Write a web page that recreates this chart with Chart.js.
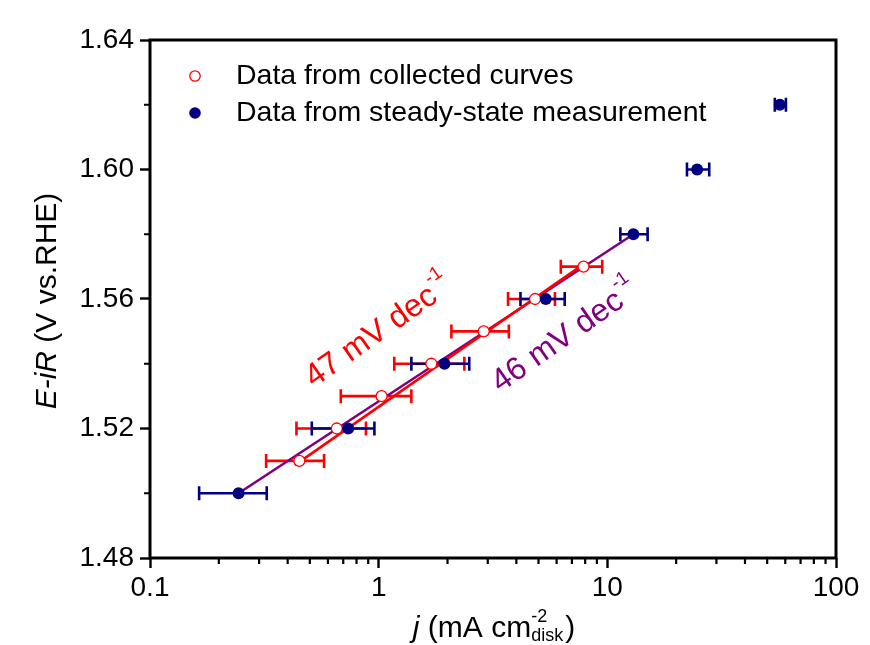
<!DOCTYPE html>
<html>
<head>
<meta charset="utf-8">
<script src="https://cdn.jsdelivr.net/npm/chart.js@4.4.1/dist/chart.umd.min.js"></script>
<style>
  body { margin: 0; background: #fff; }
  canvas { display: block; }
</style>
</head>
<body>
<canvas id="tafelChart" width="870" height="645"></canvas>
<script>
// steady-state points (navy, filled)
const ssJ = [0.244, 0.736, 1.94, 5.38, 13.0, 24.7, 56.8];
const ssE = [1.50, 1.52, 1.54, 1.56, 1.58, 1.60, 1.62];
const ssJLow = [0.164, 0.51, 1.39, 4.17, 11.4, 22.3, 54.0];
const ssJHigh = [0.324, 0.958, 2.49, 6.51, 15.0, 27.9, 60.4];

// collected-curve points (red, open)
const ccJ = [0.45, 0.656, 1.03, 1.70, 2.88, 4.83, 7.87];
const ccE = [1.51, 1.52, 1.53, 1.54, 1.55, 1.56, 1.57];
const ccJLow = [0.322, 0.437, 0.683, 1.17, 2.08, 3.68, 6.26];
const ccJHigh = [0.577, 0.88, 1.39, 2.37, 3.71, 5.9, 9.5];

// Tafel fits
const redFitJ = [0.43, 7.6];
const redFitE = [1.5087, 1.570];
const purpleFitJ = [0.244, 13.0];
const purpleFitE = [1.50, 1.58];

// axes
const xTicks = [0.1, 1, 10, 100];
const xTickLabels = ['0.1', '1', '10', '100'];
const xMinorTicks = [0.2, 0.3, 0.4, 0.5, 0.6, 0.7, 0.8, 0.9, 2, 3, 4, 5, 6, 7, 8, 9, 20, 30, 40, 50, 60, 70, 80, 90];
const yTicks = [1.48, 1.52, 1.56, 1.60, 1.64];
const yMinorTicks = [1.50, 1.54, 1.58, 1.62];

const FONT = "'Liberation Sans', Arial, sans-serif";
const RED = '#ff0000';
const NAVY = '#000080';
const PURPLE = '#800080';

const toXY = (xs, ys) => xs.map((x, i) => ({ x: x, y: ys[i] }));

// horizontal error bars, drawn under the markers
const errorBars = {
    id: 'errorBars',
    beforeDatasetsDraw(chart) {
        const ctx = chart.ctx;
        const xs = chart.scales.x, ys = chart.scales.y;
        const sets = [
            { lo: ccJLow, hi: ccJHigh, e: ccE, c: RED },
            { lo: ssJLow, hi: ssJHigh, e: ssE, c: NAVY }
        ];
        ctx.save();
        ctx.lineWidth = 2.6;
        sets.forEach(s => {
            ctx.strokeStyle = s.c;
            s.e.forEach((e, i) => {
                const y = ys.getPixelForValue(e);
                const x1 = xs.getPixelForValue(s.lo[i]);
                const x2 = xs.getPixelForValue(s.hi[i]);
                ctx.beginPath();
                ctx.moveTo(x1, y); ctx.lineTo(x2, y);
                ctx.moveTo(x1, y - 7); ctx.lineTo(x1, y + 7);
                ctx.moveTo(x2, y - 7); ctx.lineTo(x2, y + 7);
                ctx.stroke();
            });
        });
        ctx.restore();
    }
};

// slope labels
function slopeLabel(ctx, x, y, text, color) {
    ctx.save();
    ctx.translate(x, y);
    ctx.rotate(-35 * Math.PI / 180);
    ctx.fillStyle = color;
    ctx.font = '32px ' + FONT;
    ctx.textAlign = 'left';
    ctx.textBaseline = 'alphabetic';
    ctx.fillText(text, 0, 0);
    const w = ctx.measureText(text).width;
    ctx.font = '19px ' + FONT;
    ctx.fillText('-1', w + 1, -18);
    ctx.restore();
}

const annotations = {
    id: 'annotations',
    afterDatasetsDraw(chart) {
        const xs = chart.scales.x, ys = chart.scales.y;
        slopeLabel(chart.ctx, xs.getPixelForValue(0.52), ys.getPixelForValue(1.5325), '47 mV dec', RED);
        slopeLabel(chart.ctx, xs.getPixelForValue(3.4), ys.getPixelForValue(1.531), '46 mV dec', PURPLE);
    }
};

// frame, minor ticks, legend, axis titles
const decorations = {
    id: 'decorations',
    afterDraw(chart) {
        const ctx = chart.ctx;
        const a = chart.chartArea;
        const xs = chart.scales.x, ys = chart.scales.y;
        ctx.save();
        ctx.strokeStyle = '#000';
        ctx.lineWidth = 3;
        ctx.strokeRect(a.left, a.top, a.right - a.left, a.bottom - a.top);

        ctx.lineWidth = 2.2;
        ctx.beginPath();
        xMinorTicks.forEach(v => {
            const x = xs.getPixelForValue(v);
            ctx.moveTo(x, a.bottom); ctx.lineTo(x, a.bottom + 6);
        });
        yMinorTicks.forEach(v => {
            const y = ys.getPixelForValue(v);
            ctx.moveTo(a.left, y); ctx.lineTo(a.left - 6, y);
        });
        ctx.stroke();

        // legend
        ctx.lineWidth = 1.3;
        ctx.strokeStyle = RED;
        ctx.fillStyle = '#fff';
        ctx.beginPath(); ctx.arc(195, 76, 5.2, 0, Math.PI * 2); ctx.fill(); ctx.stroke();
        ctx.fillStyle = NAVY;
        ctx.beginPath(); ctx.arc(195, 113, 5.8, 0, Math.PI * 2); ctx.fill();
        ctx.fillStyle = '#000';
        ctx.font = '28.5px ' + FONT;
        ctx.textBaseline = 'middle';
        ctx.textAlign = 'left';
        ctx.fillText('Data from collected curves', 236, 76);
        ctx.fillText('Data from steady-state measurement', 236, 113);

        // x title: j (mA cm^-2_disk)
        const big = '30px ' + FONT, small = '18px ' + FONT;
        ctx.textBaseline = 'alphabetic';
        ctx.font = 'italic ' + big;
        const wj = ctx.measureText('j').width;
        ctx.font = big;
        const wa = ctx.measureText(' (mA cm').width;
        const wc = ctx.measureText(')').width;
        ctx.font = small;
        const wsub = ctx.measureText('disk').width;
        const total = wj + wa + wsub + 2 + wc;
        let x = 494 - total / 2;
        const by = 637;
        ctx.font = 'italic ' + big;
        ctx.fillText('j', x, by); x += wj;
        ctx.font = big;
        ctx.fillText(' (mA cm', x, by); x += wa;
        ctx.font = small;
        ctx.fillText('-2', x, by - 15);
        ctx.fillText('disk', x, by + 4); x += wsub + 2;
        ctx.font = big;
        ctx.fillText(')', x, by);

        // y title: E-iR (V vs.RHE)
        ctx.save();
        ctx.translate(56, 301);
        ctx.rotate(-Math.PI / 2);
        ctx.font = 'italic ' + big;
        const w1 = ctx.measureText('E-iR').width;
        ctx.font = big;
        const w2 = ctx.measureText(' (V vs.RHE)').width;
        let tx = -(w1 + w2) / 2;
        ctx.font = 'italic ' + big;
        ctx.fillText('E-iR', tx, 0);
        ctx.font = big;
        ctx.fillText(' (V vs.RHE)', tx + w1, 0);
        ctx.restore();

        ctx.restore();
    }
};

const ctx = document.getElementById('tafelChart').getContext('2d');
const tafelChart = new Chart(ctx, {
    type: 'scatter',
    data: {
        datasets: [
            {
                label: '46 mV dec-1',
                type: 'line',
                data: toXY(purpleFitJ, purpleFitE),
                borderColor: PURPLE,
                borderWidth: 2.6,
                pointRadius: 0,
                showLine: true,
                order: 4
            },
            {
                label: '47 mV dec-1',
                type: 'line',
                data: toXY(redFitJ, redFitE),
                borderColor: RED,
                borderWidth: 2.6,
                pointRadius: 0,
                showLine: true,
                order: 3
            },
            {
                label: 'Data from collected curves',
                data: toXY(ccJ, ccE),
                pointStyle: 'circle',
                pointRadius: 5.5,
                pointBackgroundColor: '#fff',
                pointBorderColor: RED,
                pointBorderWidth: 1.3,
                order: 2
            },
            {
                label: 'Data from steady-state measurement',
                data: toXY(ssJ, ssE),
                pointStyle: 'circle',
                pointRadius: 6,
                pointBackgroundColor: NAVY,
                pointBorderColor: NAVY,
                pointBorderWidth: 0,
                order: 1
            }
        ]
    },
    options: {
        responsive: false,
        animation: false,
        devicePixelRatio: 1,
        layout: { padding: { top: 40, right: 34, left: 0, bottom: 0 } },
        plugins: {
            legend: { display: false },
            tooltip: { enabled: false }
        },
        scales: {
            x: {
                type: 'logarithmic',
                min: 0.1,
                max: 100,
                afterBuildTicks: scale => {
                    scale.ticks = xTicks.map(v => ({ value: v }));
                },
                afterFit: scale => { scale.height = 87; },
                ticks: {
                    autoSkip: false,
                    maxRotation: 0,
                    padding: 3,
                    color: '#000',
                    font: { family: FONT, size: 28 },
                    callback: (v) => xTickLabels[xTicks.indexOf(v)] ?? ''
                },
                grid: { drawOnChartArea: false, drawTicks: true, tickLength: 10, tickWidth: 2.4, color: '#000' },
                border: { display: false }
            },
            y: {
                min: 1.48,
                max: 1.64,
                afterBuildTicks: scale => {
                    scale.ticks = yTicks.map(v => ({ value: v }));
                },
                afterFit: scale => { scale.width = 150; },
                ticks: {
                    padding: 6,
                    color: '#000',
                    font: { family: FONT, size: 28 },
                    callback: v => v.toFixed(2)
                },
                grid: { drawOnChartArea: false, drawTicks: true, tickLength: 10, tickWidth: 2.4, color: '#000' },
                border: { display: false }
            }
        }
    },
    plugins: [errorBars, annotations, decorations]
});
</script>
</body>
</html>
